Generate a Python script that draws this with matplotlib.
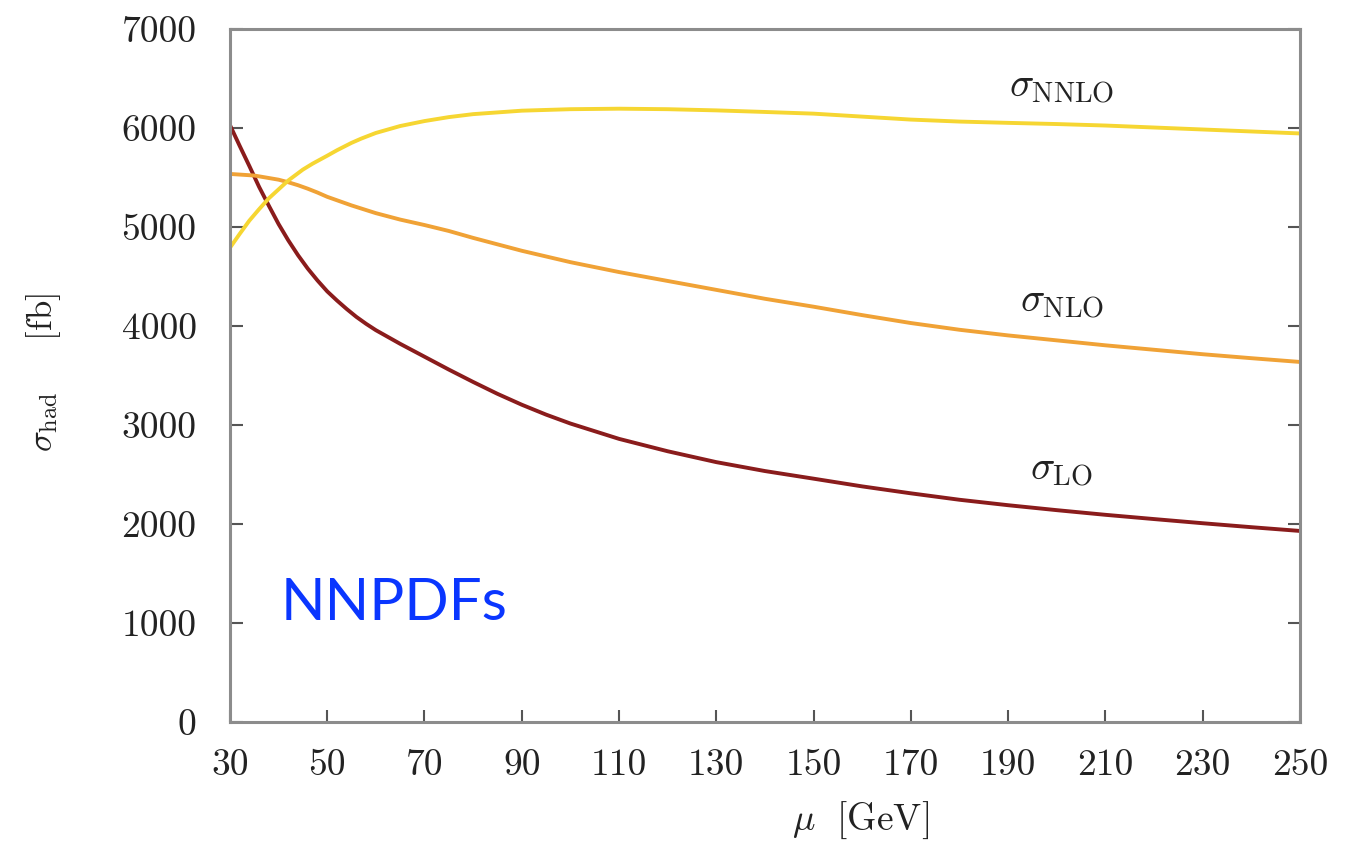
import numpy as np
import matplotlib
matplotlib.use('Agg')
import matplotlib.pyplot as plt

# scale mu in GeV and hadronic cross sections in fb
mu_lo = [30, 32, 34, 36, 38, 40, 42, 44, 46, 48, 50, 52, 54, 56, 58, 60, 65, 70,
         75, 80, 85, 90, 95, 100, 110, 120, 130, 140, 150, 160, 170, 180, 190,
         200, 210, 220, 230, 240, 250]
sigma_lo = [6030, 5820, 5615, 5405, 5215, 5030, 4865, 4715, 4580, 4460, 4350,
            4258, 4172, 4092, 4022, 3958, 3820, 3690, 3560, 3435, 3315, 3205,
            3105, 3015, 2860, 2735, 2625, 2535, 2458, 2380, 2310, 2245, 2190,
            2140, 2093, 2050, 2008, 1968, 1930]

mu_nlo = [30, 35, 40, 42, 44, 46, 48, 50, 55, 60, 65, 70, 75, 80, 85, 90, 100,
          110, 120, 130, 140, 150, 160, 170, 180, 190, 200, 210, 220, 230, 240, 250]
sigma_nlo = [5536, 5520, 5478, 5452, 5422, 5387, 5348, 5305, 5218, 5140, 5075,
             5020, 4960, 4890, 4825, 4760, 4645, 4545, 4455, 4365, 4275, 4195,
             4110, 4030, 3962, 3905, 3855, 3805, 3760, 3715, 3675, 3637]

mu_nnlo = [30, 32, 34, 36, 38, 40, 42, 45, 47, 50, 52, 55, 57, 60, 65, 70, 75,
           80, 90, 100, 110, 120, 130, 140, 150, 160, 170, 180, 190, 200, 210,
           220, 230, 240, 250]
sigma_nnlo = [4790, 4930, 5065, 5180, 5290, 5380, 5470, 5580, 5640, 5720, 5775,
              5850, 5893, 5950, 6020, 6070, 6110, 6140, 6175, 6190, 6195, 6190,
              6178, 6162, 6145, 6115, 6085, 6065, 6052, 6040, 6025, 6005, 5985,
              5965, 5945]

x_ticks = [30, 50, 70, 90, 110, 130, 150, 170, 190, 210, 230, 250]
y_ticks = [0, 1000, 2000, 3000, 4000, 5000, 6000, 7000]

plt.rcParams['font.family'] = 'serif'
plt.rcParams['font.serif'] = ['cmr10', 'DejaVu Serif']
plt.rcParams['mathtext.fontset'] = 'cm'
plt.rcParams['axes.formatter.use_mathtext'] = True

fig = plt.figure(figsize=(13.47, 8.43), dpi=100)
ax = fig.add_axes([0.1707, 0.1435, 0.7944, 0.8221])

ax.plot(mu_lo, sigma_lo, color='#8a1c1c', lw=2.8)
ax.plot(mu_nlo, sigma_nlo, color='#f0a236', lw=2.8)
ax.plot(mu_nnlo, sigma_nnlo, color='#f6d632', lw=2.8)

ax.set_xlim(30, 250)
ax.set_ylim(0, 7000)
ax.set_xticks(x_ticks)
ax.set_yticks(y_ticks)
ax.set_xticklabels([str(v) for v in x_ticks])
ax.set_yticklabels([str(v) for v in y_ticks])

for s in ax.spines.values():
    s.set_color('#8c8c8c')
    s.set_linewidth(2.2)
ax.tick_params(axis='both', direction='in', length=9, width=1.5, color='#555555',
               labelsize=27, labelcolor='#222222')
ax.tick_params(axis='y', right=True, pad=24)
ax.tick_params(axis='x', pad=19)

ax.set_xlabel(r'$\mu\ \ $[GeV]', fontsize=27, color='#222222')
ax.xaxis.set_label_coords(0.589, -0.112)
ax.set_ylabel(r'$\sigma_{\rm had}\quad\ \ $[fb]', fontsize=25, color='#222222')
ax.yaxis.set_label_coords(-0.156, 0.505)

ax.text(201, 6400, r'$\sigma_{\rm NNLO}$', fontsize=29, color='#222222', ha='center', va='center')
ax.text(201, 4230, r'$\sigma_{\rm NLO}$', fontsize=29, color='#222222', ha='center', va='center')
ax.text(201, 2530, r'$\sigma_{\rm LO}$', fontsize=29, color='#222222', ha='center', va='center')

ax.text(40.5, 1200, 'NNPDFs', fontsize=42, color='#0a36ff', family=['Lato', 'DejaVu Sans'],
        ha='left', va='center')

fig.savefig('out.png', dpi=100)
